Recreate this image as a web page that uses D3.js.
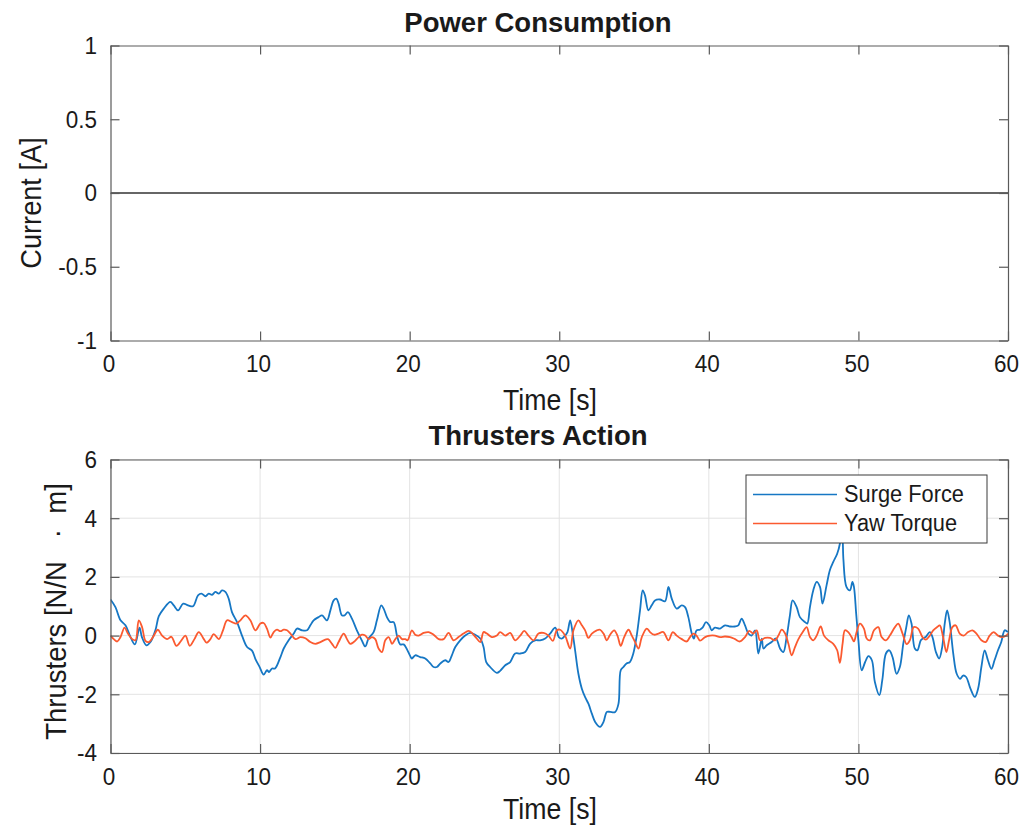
<!DOCTYPE html>
<html>
<head>
<meta charset="utf-8">
<script src="https://cdn.jsdelivr.net/npm/d3@7"></script>
<style>
  html, body { margin: 0; padding: 0; background: #fff; }
  svg { display: block; }
  svg text { font-family: "Liberation Sans", Arial, Helvetica, sans-serif; fill: #1a1a1a; }
</style>
</head>
<body>
<svg id="chart" width="1034" height="826"></svg>
<script>
// ---------------- data ----------------
const xTicks = [0, 10, 20, 30, 40, 50, 60];
const currentTicks = [-1, -0.5, 0, 0.5, 1];
const currentTickLabels = ["-1", "-0.5", "0", "0.5", "1"];
const thrusterTicks = [-4, -2, 0, 2, 4, 6];

const currentTime = [0, 60];
const currentValues = [0, 0];

const seriesNames = ["Surge Force", "Yaw Torque"];

const surgeTime = [0,0.33,0.67,1.0,1.34,1.63,1.94,2.1,2.4,2.67,3.0,3.23,3.56,4.0,4.23,4.52,4.86,5.19,5.52,5.85,6.08,6.35,6.57,6.79,7.01,7.24,7.46,7.68,7.9,8.12,8.46,8.79,9.13,9.46,9.69,9.98,10.24,10.46,10.6,10.8,11.0,11.36,11.58,11.91,12.25,12.47,12.8,13.14,13.36,13.58,13.91,14.14,14.47,14.7,14.92,15.1,15.25,15.47,15.65,15.87,16.14,16.47,16.8,17.03,17.25,17.59,17.81,18.1,18.26,18.48,18.7,18.93,19.15,19.37,19.6,19.82,20.04,20.15,20.37,20.7,21.04,21.38,21.6,21.82,22.05,22.38,22.6,22.82,23.05,23.38,23.71,24.05,24.38,24.72,24.94,25.12,25.38,25.83,26.05,26.39,26.72,27.05,27.39,27.72,28.06,28.39,28.72,29.06,29.39,29.73,29.97,30.17,30.39,30.55,30.73,30.9,31.06,31.28,31.51,31.73,31.95,32.18,32.4,32.73,32.96,33.18,33.4,33.74,33.96,34.11,34.29,34.5,34.72,34.95,35.18,35.4,35.58,35.73,35.96,36.18,36.4,36.74,37.07,37.3,37.52,37.85,38.19,38.41,38.63,38.86,39.0,39.18,39.4,39.58,39.81,40.03,40.19,40.41,40.75,41.08,41.42,41.75,41.97,42.19,42.42,42.64,42.86,43.09,43.31,43.54,43.65,43.87,44.2,44.49,44.76,44.98,45.2,45.42,45.6,45.87,46.09,46.43,46.58,46.76,46.98,47.21,47.43,47.6,47.87,48.09,48.32,48.58,48.76,48.88,48.95,49.0,49.2,49.43,49.6,49.7,49.85,50.0,50.22,50.45,50.67,50.9,51.1,51.4,51.6,51.84,52.06,52.28,52.55,52.77,53.0,53.2,53.37,53.55,53.77,53.94,54.17,54.3,54.5,54.77,54.95,55.18,55.4,55.6,55.77,55.93,56.1,56.34,56.57,56.8,57.0,57.2,57.49,57.78,58.0,58.22,58.44,58.66,58.89,59.1,59.33,59.55,59.78,60];
const surgeForce = [1.23,0.97,0.52,0.35,-0.05,-0.3,0.27,-0.05,-0.33,-0.22,0.18,0.66,0.92,1.15,1.03,0.86,1.09,1.03,1.0,1.37,1.43,1.34,1.43,1.39,1.49,1.43,1.54,1.49,1.26,0.8,0.46,0,-0.39,-0.51,-0.8,-1.08,-1.33,-1.18,-1.24,-1.12,-1.12,-0.73,-0.44,-0.16,0.07,0.24,0.18,0.18,0.35,0.52,0.63,0.69,0.52,0.86,1.2,1.26,1.09,0.69,0.69,0.8,0.58,0.18,-0.16,-0.37,-0.1,0.12,0.52,1.03,0.92,0.63,0.46,0.46,0,-0.3,-0.3,-0.47,-0.7,-0.78,-0.67,-0.73,-0.78,-0.95,-1.07,-1.07,-0.95,-0.84,-0.9,-0.67,-0.39,-0.16,0,0.09,0.03,-0.1,-0.39,-0.9,-1.07,-1.27,-1.2,-1.01,-0.9,-0.61,-0.61,-0.56,-0.27,-0.16,-0.16,-0.1,0.07,0.27,-0.05,-0.1,0,0.12,0.52,0.07,-0.5,-1.3,-1.81,-2.1,-2.32,-2.66,-2.94,-3.11,-2.94,-2.6,-2.6,-2.6,-2.32,-1.18,-1.07,-0.95,-0.9,-0.61,0,0.86,1.54,1.37,0.86,1.03,1.2,1.23,1.17,1.66,1.26,0.92,1.03,0.97,0.63,0.07,-0.1,0.18,0.2,0.27,0.46,0.35,0.18,0.27,0.24,0.35,0.31,0.31,0.35,0.58,0.35,0.07,0,0.18,-0.61,-0.1,-0.44,-0.33,-0.22,-0.1,-0.44,-0.56,-0.05,0.69,1.2,0.97,0.63,0.46,0.41,0.97,1.54,1.83,1.66,1.09,1.71,2.23,2.51,2.79,3.13,3.8,3.3,2.57,1.66,1.54,1.83,1.66,0.75,-0.16,-1.18,-0.9,-0.7,-0.84,-1.58,-2.03,-1.5,-0.61,-0.5,-0.73,-1.3,-1.07,-0.27,0.29,0.69,0.41,-0.44,-0.5,-0.16,-0.1,-0.05,0.12,-0.05,-0.56,-0.78,-0.39,0.41,0.86,0.46,-0.61,-1.3,-1.47,-1.36,-1.41,-1.81,-2.09,-1.81,-1.07,-0.5,-0.84,-1.13,-0.84,-0.5,-0.22,0.18,0.12];

const yawTime = [0,0.22,0.45,0.67,0.94,1.16,1.45,1.67,1.89,2.11,2.34,2.56,2.9,3.16,3.45,3.79,4.07,4.41,4.74,5.01,5.3,5.61,5.9,6.24,6.41,6.68,6.9,7.24,7.52,7.79,8.12,8.41,8.68,9.02,9.35,9.69,10.02,10.24,10.46,10.69,10.91,11.13,11.36,11.58,11.8,12.03,12.36,12.69,13.03,13.36,13.69,14.03,14.36,14.54,14.81,15.03,15.25,15.59,15.81,16.03,16.26,16.59,16.81,17.03,17.25,17.48,17.7,17.92,18.15,18.37,18.6,18.82,19.04,19.26,19.49,19.71,19.86,20.15,20.37,20.6,20.93,21.27,21.6,21.94,22.27,22.6,22.94,23.27,23.6,23.94,24.16,24.45,24.72,24.94,25.16,25.49,25.83,26.05,26.39,26.72,27.05,27.39,27.66,27.94,28.28,28.61,28.95,29.28,29.57,29.84,30.06,30.39,30.73,30.95,31.28,31.51,31.73,31.95,32.18,32.51,32.73,32.96,33.18,33.4,33.67,33.89,34.11,34.34,34.63,34.85,35.07,35.3,35.52,35.85,36.07,36.34,36.63,36.96,37.3,37.59,37.85,38.19,38.52,38.74,38.97,39.18,39.41,39.75,40.08,40.41,40.75,41.08,41.42,41.75,42.08,42.42,42.7,42.97,43.2,43.42,43.76,44.09,44.43,44.65,44.87,45.1,45.32,45.54,45.76,45.99,46.28,46.54,46.76,46.98,47.21,47.48,47.7,47.99,48.32,48.58,48.76,48.94,49.1,49.32,49.54,49.7,49.88,50.1,50.37,50.55,50.77,51.04,51.33,51.55,51.84,52.1,52.44,52.66,52.95,53.22,53.44,53.7,53.99,54.28,54.5,54.77,55.0,55.26,55.44,55.66,55.88,56.06,56.28,56.5,56.77,57.04,57.33,57.62,57.89,58.22,58.51,58.77,59.04,59.33,59.62,59.88,60];
const yawTorque = [0,-0.12,-0.2,-0.05,0.27,0.07,-0.12,-0.16,0.52,0.29,-0.18,-0.22,0,0.2,0,-0.12,-0.04,-0.35,-0.16,0,-0.35,-0.12,0.12,-0.12,-0.24,-0.12,0.05,-0.12,0.18,0.52,0.46,0.41,0.52,0.69,0.52,0.18,0.41,0.43,0.24,-0.07,0.12,0.2,0.15,0.2,0.18,0.07,-0.12,-0.05,-0.09,-0.22,-0.28,-0.22,-0.14,-0.12,-0.28,-0.42,-0.22,0.07,-0.12,-0.28,-0.22,-0.05,0.03,0,-0.12,-0.05,-0.12,-0.44,-0.56,-0.16,-0.05,-0.28,-0.12,0,-0.12,-0.12,-0.16,0.18,0.03,0,0.09,0.12,0.03,-0.12,-0.12,0.09,-0.16,-0.05,0.07,0.16,0.09,-0.08,-0.22,0.12,0.07,-0.05,0,0.12,0,0.09,-0.16,0,0.16,0,-0.16,0.07,0.09,0,-0.18,0.18,0.2,0,-0.44,0.18,0.52,0.35,0.18,-0.08,0.07,0.18,0.2,0.07,-0.16,0.03,0.18,0,-0.35,-0.05,0.2,0,-0.22,-0.44,-0.05,0.24,0.12,0.03,0.07,0.12,-0.16,0.12,0,-0.12,-0.2,-0.05,0.07,0,-0.17,-0.05,0,0,-0.05,-0.03,-0.05,-0.12,-0.2,-0.05,0.16,0.07,0.18,-0.16,-0.08,-0.08,-0.16,0,0.2,0.07,-0.28,-0.67,-0.39,-0.12,0.12,0.29,-0.05,-0.16,0,0.31,0,-0.16,-0.28,-0.5,-0.93,-0.28,0.18,0.12,-0.05,-0.2,0.12,0.41,0.24,-0.1,-0.16,0.18,0.29,-0.05,-0.16,0,0.29,0.41,0.07,-0.29,-0.16,0.29,0.24,-0.05,-0.14,0,0.18,0.29,0.35,-0.05,-0.56,-0.16,0.29,0.35,0.07,0,0.12,0.18,0.07,-0.16,-0.22,0,0.12,0,-0.05,0,0.07];

// ---------------- drawing ----------------
const svg = d3.select("#chart");
const FONT = "'Liberation Sans', Arial, Helvetica, sans-serif";
const AXIS = "#5a5a5a", GRID = "#e3e3e3";
const seriesColors = ["#1677c4", "#fb5a30"];
const VS = 1.1; // vertical stretch of the reference text

function txt(g, x, y, s, size, opts = {}) {
  const sy = opts.sy !== undefined ? opts.sy : VS;
  const tr = opts.rotate
    ? `translate(${x},${y}) scale(${sy},1) rotate(-90)`
    : `translate(${x},${y}) scale(1,${sy})`;
  const t = g.append("text")
    .attr("transform", tr)
    .attr("font-family", FONT)
    .attr("font-size", size)
    .attr("text-anchor", opts.anchor || "middle")
    .attr("fill", "#1a1a1a")
    .style("white-space", "pre")
    .text(s);
  if (opts.bold) t.attr("font-weight", "bold");
  if (opts.baseline) t.attr("dominant-baseline", opts.baseline);
  return t;
}

function panel(cfg) {
  const g = svg.append("g");
  const x = d3.scaleLinear().domain([0, 60]).range([110.5, 1008]);
  const y = d3.scaleLinear().domain(cfg.yDomain).range([cfg.bottom, cfg.top]);

  if (cfg.grid) {
    g.append("g").selectAll("line").data(xTicks).join("line")
      .attr("x1", d => x(d)).attr("x2", d => x(d))
      .attr("y1", cfg.top).attr("y2", cfg.bottom)
      .attr("stroke", GRID).attr("stroke-width", 1);
    g.append("g").selectAll("line").data(cfg.yTicks).join("line")
      .attr("x1", x(0)).attr("x2", x(60))
      .attr("y1", d => y(d)).attr("y2", d => y(d))
      .attr("stroke", GRID).attr("stroke-width", 1);
  }

  // clip for data
  const clipId = "clip" + cfg.id;
  svg.append("clipPath").attr("id", clipId).append("rect")
    .attr("x", x(0)).attr("y", cfg.top).attr("width", x(60) - x(0)).attr("height", cfg.bottom - cfg.top);
  const data = g.append("g").attr("clip-path", `url(#${clipId})`);
  cfg.series.forEach(s => {
    const pts = s.t.map((t, i) => [t, s.v[i]]);
    data.append("path").datum(pts)
      .attr("fill", "none").attr("stroke", s.color).attr("stroke-width", s.width)
      .attr("stroke-linejoin", "round")
      .attr("d", d3.line().x(d => x(d[0])).y(d => y(d[1])).curve(d3.curveCatmullRom.alpha(0.5)));
  });

  // axes with inward ticks (all four sides, MATLAB box style)
  const tl = 9;
  const axB = d3.axisBottom(x).tickValues(xTicks).tickSizeInner(-tl).tickSizeOuter(0).tickFormat("");
  const axT = d3.axisTop(x).tickValues(xTicks).tickSizeInner(-tl).tickSizeOuter(0).tickFormat("");
  const axL = d3.axisLeft(y).tickValues(cfg.yTicks).tickSizeInner(-tl).tickSizeOuter(0).tickFormat("");
  const axR = d3.axisRight(y).tickValues(cfg.yTicks).tickSizeInner(-tl).tickSizeOuter(0).tickFormat("");
  [[axB, `translate(0,${cfg.bottom})`], [axT, `translate(0,${cfg.top})`],
   [axL, `translate(${x(0)},0)`], [axR, `translate(${x(60)},0)`]].forEach(([ax, tr]) => {
    const a = g.append("g").attr("transform", tr).call(ax);
    a.selectAll("path").attr("stroke", AXIS).attr("stroke-width", 1.2);
    a.selectAll("line").attr("stroke", AXIS).attr("stroke-width", 1.2);
  });

  // tick labels
  xTicks.forEach(d => txt(g, x(d) - 1.5, cfg.xLabelY, String(d), 22.5));
  cfg.yTicks.forEach((d, i) => txt(g, 97, y(d), cfg.yTickLabels[i], 22.5, { anchor: "end", baseline: "central" }));

  // title and labels
  txt(g, 538, cfg.titleY, cfg.title, 27.5, { bold: true, sy: 1.0 });
  txt(g, 550, cfg.xTitleY, "Time [s]", 26.7);
  txt(g, cfg.yTitleX, cfg.yTitleY, cfg.yTitle, cfg.yTitleSize, { rotate: true, baseline: "central" });
  return { g, x, y };
}

panel({
  id: "top", top: 45.5, bottom: 340.5, yDomain: [-1, 1], yTicks: currentTicks, yTickLabels: currentTickLabels,
  grid: false, xLabelY: 372, title: "Power Consumption", titleY: 32, xTitleY: 409.5,
  yTitle: "Current [A]", yTitleX: 31, yTitleY: 203, yTitleSize: 27.2,
  series: [{ t: currentTime, v: currentValues, color: "#333333", width: 1.4 }]
});

panel({
  id: "bot", top: 459.5, bottom: 753, yDomain: [-4, 6], yTicks: thrusterTicks, yTickLabels: thrusterTicks.map(String),
  grid: true, xLabelY: 785, title: "Thrusters Action", titleY: 444.5, xTitleY: 819,
  yTitle: "Thrusters [N/N   ·  m]", yTitleX: 56, yTitleY: 611.5, yTitleSize: 27.5,
  series: [{ t: surgeTime, v: surgeForce, color: seriesColors[0], width: 1.8 },
           { t: yawTime, v: yawTorque, color: seriesColors[1], width: 1.8 }]
});

// legend
const lg = svg.append("g");
lg.append("rect").attr("x", 746).attr("y", 475).attr("width", 241).attr("height", 68)
  .attr("fill", "#fff").attr("stroke", "#3a3a3a").attr("stroke-width", 1);
seriesNames.forEach((name, i) => {
  const yy = 494 + i * 29;
  lg.append("line").attr("x1", 753).attr("x2", 837).attr("y1", yy + 0.5).attr("y2", yy + 0.5)
    .attr("stroke", seriesColors[i]).attr("stroke-width", 1.3);
  txt(lg, 844, yy, name, 21.8, { anchor: "start", baseline: "central" });
});
</script>
</body>
</html>
